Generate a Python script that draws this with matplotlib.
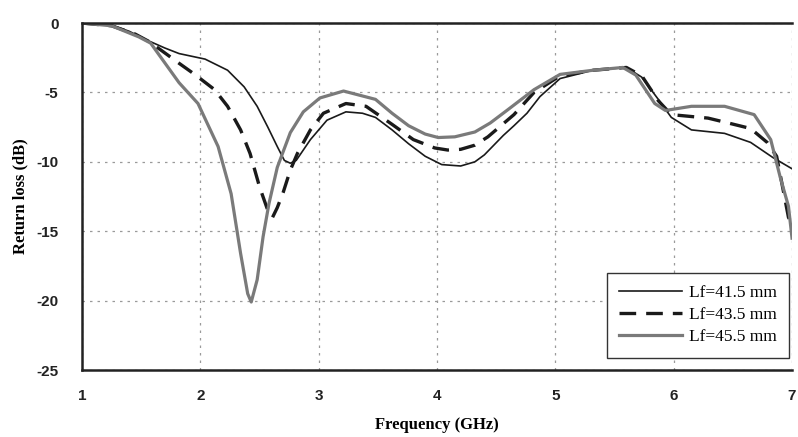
import matplotlib
matplotlib.use("Agg")
import matplotlib.pyplot as plt

# Lf = 41.5 mm (тонкая чёрная)
freq_415 = [1.0, 1.25, 1.4, 1.54, 1.7, 1.82, 2.04, 2.23, 2.37, 2.48, 2.57, 2.65, 2.71, 2.76,
            2.81, 2.93, 3.07, 3.23, 3.37, 3.48, 3.62, 3.76, 3.9, 4.04, 4.2, 4.32, 4.4, 4.48,
            4.56, 4.65, 4.76, 4.87, 5.04, 5.32, 5.6, 5.73, 5.87, 5.98, 6.15, 6.43, 6.65,
            6.84, 7.0]
rl_415 = [0.0, -0.15, -0.6, -1.2, -1.8, -2.2, -2.6, -3.4, -4.6, -6.0, -7.5, -8.9, -9.9, -10.1,
          -9.9, -8.4, -7.0, -6.4, -6.5, -6.8, -7.7, -8.7, -9.6, -10.2, -10.3, -10.0, -9.5,
          -8.8, -8.1, -7.4, -6.5, -5.3, -4.0, -3.4, -3.2, -3.9, -5.5, -6.8, -7.7, -7.95,
          -8.6, -9.7, -10.5]

# Lf = 43.5 mm (штрих)
freq_435 = [1.0, 1.25, 1.45, 1.57, 1.82, 1.96, 2.12, 2.23, 2.34, 2.42, 2.5, 2.57, 2.61,
            2.65, 2.7, 2.76, 2.82, 2.93, 3.04, 3.23, 3.4, 3.62, 3.8, 3.98, 4.09, 4.2, 4.32,
            4.43, 4.65, 4.82, 5.04, 5.32, 5.6, 5.73, 5.87, 5.98, 6.29, 6.46, 6.65, 6.79,
            6.87, 6.97, 7.0]
rl_435 = [0.0, -0.2, -0.8, -1.35, -2.9, -3.75, -4.8, -6.0, -7.7, -9.4, -11.8, -13.5, -14.0,
          -13.3, -12.2, -10.6, -9.4, -7.7, -6.5, -5.8, -6.0, -7.3, -8.4, -9.0, -9.15, -9.1,
          -8.8, -8.2, -6.6, -5.0, -3.8, -3.4, -3.2, -3.8, -5.6, -6.6, -6.85, -7.2, -7.6,
          -8.6, -9.6, -14.0, -14.5]

# Lf = 45.5 mm (толстая серая)
freq_455 = [1.0, 1.25, 1.48, 1.58, 1.82, 1.98, 2.15, 2.26, 2.34, 2.40, 2.43, 2.48, 2.53,
            2.58, 2.65, 2.76, 2.87, 3.01, 3.21, 3.48, 3.62, 3.76, 3.9, 4.01, 4.15, 4.32,
            4.45, 4.59, 4.82, 5.04, 5.32, 5.57, 5.68, 5.84, 5.93, 6.15, 6.43, 6.68, 6.82,
            6.9, 6.97, 7.0]
rl_455 = [0.0, -0.2, -1.0, -1.45, -4.3, -5.8, -8.9, -12.3, -16.6, -19.5, -20.1, -18.5, -15.4,
          -13.0, -10.4, -7.9, -6.4, -5.4, -4.9, -5.5, -6.5, -7.4, -8.0, -8.25, -8.2, -7.85,
          -7.2, -6.3, -4.8, -3.7, -3.4, -3.2, -3.75, -5.8, -6.3, -6.0, -6.0, -6.6, -8.4,
          -11.1, -13.2, -15.5]

labels = ["Lf=41.5 mm", "Lf=43.5 mm", "Lf=45.5 mm"]
x_ticks = [1, 2, 3, 4, 5, 6, 7]
y_ticks = [0, -5, -10, -15, -20, -25]

fig = plt.figure(figsize=(7.98, 4.37), dpi=100)
fig.patch.set_facecolor("white")
ax = fig.add_axes([0.1028, 0.1533, 0.8897, 0.794])

ax.plot(freq_415, rl_415, color="#1a1a1a", linewidth=1.2, label=labels[0])
ax.plot(freq_435, rl_435, color="#1a1a1a", linewidth=2.4, dashes=(5, 3), label=labels[1])
ax.plot(freq_455, rl_455, color="#7a7a7a", linewidth=2.3, label=labels[2])

ax.set_xlim(1, 7)
ax.set_ylim(-25, 0)
ax.set_xticks(x_ticks)
ax.set_yticks(y_ticks)
ax.set_xticklabels([str(t) for t in x_ticks], fontsize=11, fontweight="bold",
                   color="#222222", family="Liberation Sans")
ax.set_yticklabels([str(t) for t in y_ticks], fontsize=11, fontweight="bold",
                   color="#222222", family="Liberation Sans")
ax.tick_params(axis="both", length=0)
ax.tick_params(axis="x", pad=14)
ax.tick_params(axis="y", pad=17)

ax.grid(True, color="#9a9a9a", linestyle=(0, (2, 4)), linewidth=0.9)
for side in ["left", "bottom", "top"]:
    ax.spines[side].set_linewidth(1.8)
    ax.spines[side].set_color("#222222")
ax.spines["right"].set_visible(False)

ax.set_xlabel("Frequency (GHz)", family="Liberation Serif", fontweight="bold",
              fontsize=12, labelpad=10)
ax.set_ylabel("Return loss (dB)", family="Liberation Serif", fontweight="bold",
              fontsize=12, labelpad=6)

leg = ax.legend(loc="lower right", bbox_to_anchor=(1.0, 0.026), fancybox=False,
                framealpha=1, edgecolor="#333333", handlelength=3.6,
                prop={"family": "Liberation Serif", "size": 12.5},
                borderpad=0.7, labelspacing=0.35, handletextpad=0.4, borderaxespad=0.2)
leg.get_frame().set_linewidth(1.0)

fig.savefig("out.png", dpi=100, facecolor="white")
